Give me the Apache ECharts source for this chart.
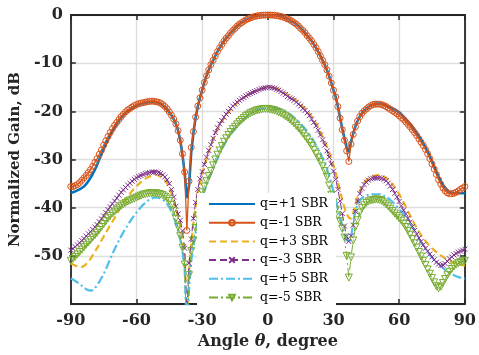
<!DOCTYPE html>
<html><head><meta charset="utf-8">
<script src="https://cdn.jsdelivr.net/npm/echarts@6/dist/echarts.min.js"></script>
<style>html,body{margin:0;padding:0;background:#fff}#c{width:479px;height:355px}</style>
</head><body><div id="c"></div>
<script>
// sampling grid: -90..90 degrees, 1 degree step
const angleStart = -90, angleEnd = 90;
const xTicks = [-90, -60, -30, 0, 30, 60, 90];
const yTickLabels = [0, -10, -20, -30, -40, -50];
const seriesNames = ['q=+1 SBR', 'q=-1 SBR', 'q=+3 SBR', 'q=-3 SBR', 'q=+5 SBR', 'q=-5 SBR'];

// values in dB, one per degree from -90 to 90 (rows of 10)
const qP1 = [
-36.9,-36.8,-36.6,-36.4,-36.2,-35.9,-35.6,-35.1,-34.5,-33.8,
-33.0,-32.1,-31.1,-30.0,-28.9,-27.8,-26.8,-25.8,-24.9,-24.1,
-23.3,-22.6,-21.9,-21.3,-20.8,-20.3,-19.9,-19.6,-19.3,-19.0,
-18.8,-18.6,-18.4,-18.3,-18.2,-18.1,-18.0,-18.0,-18.0,-18.1,
-18.2,-18.4,-18.7,-19.1,-19.6,-20.2,-20.8,-21.6,-22.6,-24.0,
-26.0,-29.0,-32.8,-38.0,-35.5,-28.5,-24.5,-21.3,-19.0,-17.2,
-15.6,-14.0,-12.6,-11.4,-10.3,-9.4,-8.5,-7.6,-6.8,-6.1,
-5.4,-4.8,-4.3,-3.7,-3.2,-2.8,-2.3,-1.9,-1.6,-1.3,
-1.0,-0.8,-0.6,-0.45,-0.3,-0.2,-0.12,-0.06,-0.03,0,
0,0,-0.03,-0.06,-0.12,-0.2,-0.3,-0.45,-0.6,-0.8,
-1.0,-1.3,-1.6,-1.9,-2.3,-2.8,-3.2,-3.7,-4.3,-4.8,
-5.4,-6.1,-6.8,-7.6,-8.5,-9.4,-10.3,-11.4,-12.7,-14.1,
-15.6,-17.0,-19.0,-21.3,-23.6,-25.6,-27.5,-28.5,-26.3,-24.6,
-23.1,-22.0,-21.1,-20.4,-19.9,-19.5,-19.1,-18.8,-18.6,-18.45,
-18.4,-18.4,-18.45,-18.6,-18.8,-19.0,-19.2,-19.4,-19.6,-19.9,
-20.2,-20.6,-21.1,-21.6,-22.1,-22.6,-23.2,-23.8,-24.5,-25.2,
-25.9,-26.7,-27.5,-28.4,-29.4,-30.4,-31.5,-32.6,-33.6,-34.5,
-35.3,-35.9,-36.4,-36.7,-36.9,-37.0,-37.0,-37.0,-37.0,-37.0,
-37.0];

const qM1 = [
-35.6,-35.6,-35.4,-35.2,-34.8,-34.3,-33.8,-33.3,-32.7,-32.1,
-31.4,-30.6,-29.8,-28.9,-28.0,-27.0,-26.1,-25.2,-24.4,-23.6,
-22.9,-22.3,-21.7,-21.1,-20.6,-20.1,-19.7,-19.4,-19.1,-18.8,
-18.6,-18.4,-18.3,-18.2,-18.1,-18.0,-17.9,-17.9,-17.9,-18.0,
-18.1,-18.3,-18.6,-19.0,-19.5,-20.1,-20.8,-21.6,-22.6,-24.0,
-26.0,-28.8,-32.6,-44.7,-34.5,-27.5,-24.2,-21.2,-18.9,-17.2,
-15.6,-14.0,-12.6,-11.4,-10.3,-9.4,-8.5,-7.6,-6.8,-6.1,
-5.4,-4.8,-4.3,-3.7,-3.2,-2.8,-2.3,-1.9,-1.6,-1.3,
-1.0,-0.8,-0.6,-0.45,-0.3,-0.2,-0.12,-0.06,-0.03,0,
0,0,-0.03,-0.06,-0.12,-0.2,-0.3,-0.45,-0.6,-0.8,
-1.0,-1.3,-1.6,-1.9,-2.3,-2.8,-3.2,-3.7,-4.3,-4.8,
-5.4,-6.1,-6.8,-7.6,-8.5,-9.4,-10.3,-11.4,-12.7,-14.1,
-15.6,-17.0,-19.0,-21.4,-23.8,-26.0,-28.2,-30.4,-26.8,-24.8,
-23.2,-22.0,-21.1,-20.4,-19.9,-19.5,-19.1,-18.8,-18.6,-18.5,
-18.5,-18.5,-18.6,-18.8,-19.0,-19.3,-19.6,-19.9,-20.2,-20.5,
-20.9,-21.3,-21.7,-22.2,-22.7,-23.2,-23.8,-24.4,-25.0,-25.7,
-26.4,-27.1,-27.9,-28.8,-29.8,-30.9,-32.0,-33.1,-34.2,-35.1,
-35.9,-36.5,-36.9,-37.1,-37.1,-37.0,-36.8,-36.5,-36.2,-35.9,
-35.6];

const qP3 = [
-51.6,-51.8,-52.0,-52.2,-52.3,-52.3,-52.1,-51.7,-51.2,-50.6,
-49.9,-49.1,-48.4,-47.6,-46.8,-46.0,-45.2,-44.4,-43.6,-42.9,
-42.1,-41.3,-40.5,-39.7,-39.0,-38.3,-37.7,-37.1,-36.5,-36.0,
-35.5,-35.1,-34.7,-34.3,-34.0,-33.7,-33.5,-33.3,-33.2,-33.2,
-33.3,-33.5,-33.8,-34.3,-35.0,-35.9,-37.0,-38.4,-40.1,-42.0,
-44.0,-46.5,-50.0,-64.0,-53.0,-47.5,-43.2,-39.8,-37.0,-34.8,
-33.0,-31.4,-29.9,-28.5,-27.2,-26.0,-24.8,-23.8,-22.9,-22.1,
-21.4,-20.8,-20.2,-19.6,-19.1,-18.7,-18.2,-17.8,-17.5,-17.2,
-16.9,-16.6,-16.4,-16.1,-15.9,-15.7,-15.5,-15.4,-15.2,-15.1,
-15.0,-15.0,-15.0,-15.1,-15.2,-15.4,-15.6,-15.9,-16.2,-16.5,
-16.8,-17.1,-17.4,-17.8,-18.1,-18.5,-19.0,-19.4,-19.9,-20.5,
-21.1,-21.8,-22.5,-23.3,-24.2,-25.2,-26.2,-27.3,-28.5,-29.8,
-31.2,-32.8,-34.6,-36.5,-38.4,-40.0,-41.3,-42.1,-42.3,-41.0,
-39.2,-37.8,-36.5,-35.5,-34.8,-34.3,-33.9,-33.6,-33.4,-33.3,
-33.2,-33.2,-33.3,-33.5,-33.8,-34.2,-34.7,-35.2,-35.8,-36.5,
-37.2,-38.0,-38.9,-39.8,-40.7,-41.6,-42.5,-43.4,-44.2,-45.0,
-45.7,-46.3,-46.9,-47.4,-47.9,-48.4,-48.8,-49.2,-49.6,-49.9,
-50.2,-50.5,-50.8,-51.0,-51.2,-51.4,-51.5,-51.7,-51.8,-51.9,
-52.0];

const qM3 = [
-48.8,-48.5,-48.1,-47.7,-47.3,-46.8,-46.4,-45.9,-45.4,-45.0,
-44.5,-44.0,-43.5,-42.9,-42.3,-41.7,-41.0,-40.4,-39.8,-39.2,
-38.6,-38.0,-37.4,-36.8,-36.3,-35.8,-35.3,-34.9,-34.5,-34.1,
-33.8,-33.5,-33.3,-33.1,-32.9,-32.8,-32.7,-32.6,-32.6,-32.6,
-32.7,-32.9,-33.2,-33.6,-34.2,-35.0,-36.2,-37.8,-39.7,-41.3,
-42.6,-44.8,-48.4,-62.0,-51.5,-46.5,-42.2,-38.9,-36.2,-34.0,
-32.5,-31.0,-29.5,-28.1,-26.9,-25.6,-24.4,-23.4,-22.6,-21.9,
-21.2,-20.6,-20.0,-19.4,-18.9,-18.5,-18.1,-17.7,-17.4,-17.1,
-16.8,-16.5,-16.3,-16.1,-15.9,-15.7,-15.5,-15.3,-15.2,-15.1,
-15.0,-15.0,-15.1,-15.2,-15.4,-15.6,-15.9,-16.2,-16.5,-16.9,
-17.2,-17.4,-17.7,-18.1,-18.5,-18.9,-19.4,-19.8,-20.3,-20.9,
-21.6,-22.3,-23.0,-23.9,-24.9,-25.9,-27.0,-28.2,-29.5,-30.9,
-32.4,-34.1,-36.2,-38.6,-41.2,-43.8,-46.0,-47.0,-45.8,-43.6,
-40.8,-38.6,-37.1,-36.0,-35.2,-34.7,-34.3,-34.0,-33.9,-33.8,
-33.8,-33.8,-33.9,-34.1,-34.4,-34.9,-35.5,-36.2,-37.0,-37.8,
-38.7,-39.6,-40.5,-41.3,-42.2,-43.0,-43.9,-44.7,-45.5,-46.3,
-47.0,-47.7,-48.4,-49.0,-49.6,-50.2,-50.8,-51.3,-51.7,-52.0,
-51.9,-51.6,-51.1,-50.6,-50.2,-49.8,-49.5,-49.2,-49.0,-48.8,
-48.6];

const qP5 = [
-54.7,-54.9,-55.2,-55.5,-55.8,-56.2,-56.6,-56.9,-57.1,-57.2,
-57.1,-56.7,-56.1,-55.4,-54.6,-53.8,-52.8,-51.7,-50.6,-49.6,
-48.6,-47.7,-46.8,-45.9,-45.1,-44.3,-43.6,-42.9,-42.2,-41.6,
-41.0,-40.4,-39.9,-39.4,-39.0,-38.6,-38.3,-38.1,-37.9,-37.9,
-37.9,-38.1,-38.3,-38.7,-39.2,-39.9,-40.8,-41.9,-43.2,-44.8,
-46.6,-49.0,-52.5,-66.0,-57.0,-51.0,-48.0,-45.3,-42.8,-40.3,
-38.0,-36.6,-35.3,-34.1,-33.0,-31.9,-30.8,-29.8,-28.8,-27.9,
-27.0,-26.2,-25.5,-24.8,-24.2,-23.6,-23.0,-22.5,-22.0,-21.6,
-21.2,-20.8,-20.5,-20.2,-20.0,-19.8,-19.6,-19.5,-19.4,-19.3,
-19.2,-19.2,-19.2,-19.3,-19.4,-19.5,-19.6,-19.8,-20.0,-20.3,
-20.6,-20.9,-21.3,-21.7,-22.1,-22.6,-23.1,-23.6,-24.2,-24.8,
-25.5,-26.2,-27.0,-27.8,-28.7,-29.7,-30.8,-32.0,-33.4,-35.0,
-36.7,-38.4,-40.2,-42.0,-43.8,-45.4,-46.6,-47.3,-46.2,-43.0,
-40.6,-39.3,-38.5,-38.0,-37.7,-37.5,-37.3,-37.2,-37.2,-37.2,
-37.2,-37.2,-37.3,-37.5,-37.8,-38.0,-38.4,-38.8,-39.3,-39.8,
-40.3,-40.8,-41.3,-41.9,-42.6,-43.3,-44.0,-44.8,-45.6,-46.4,
-47.2,-47.9,-48.6,-49.2,-49.8,-50.3,-50.8,-51.3,-51.7,-52.1,
-52.5,-52.9,-53.2,-53.5,-53.8,-54.0,-54.2,-54.4,-54.5,-54.6,
-54.7];

const qM5 = [
-51.0,-50.6,-50.2,-49.7,-49.2,-48.7,-48.2,-47.7,-47.2,-46.7,
-46.2,-45.7,-45.2,-44.6,-44.0,-43.4,-42.8,-42.2,-41.7,-41.2,
-40.8,-40.4,-40.0,-39.6,-39.3,-39.0,-38.7,-38.5,-38.3,-38.1,
-37.9,-37.7,-37.5,-37.3,-37.2,-37.1,-37.0,-37.0,-37.0,-37.0,
-37.1,-37.2,-37.4,-37.7,-38.1,-38.6,-39.4,-40.6,-42.3,-44.0,
-45.9,-48.3,-51.8,-67.0,-54.0,-49.0,-46.8,-44.2,-41.7,-39.0,
-36.8,-35.6,-34.5,-33.4,-32.4,-31.2,-30.0,-29.0,-28.1,-27.2,
-26.3,-25.6,-24.9,-24.3,-23.7,-23.2,-22.7,-22.2,-21.8,-21.4,
-21.0,-20.7,-20.4,-20.2,-20.0,-19.8,-19.7,-19.6,-19.5,-19.5,
-19.5,-19.6,-19.7,-19.8,-20.0,-20.2,-20.4,-20.7,-21.0,-21.3,
-21.7,-22.1,-22.5,-23.0,-23.5,-24.0,-24.6,-25.2,-25.8,-26.5,
-27.2,-28.0,-28.8,-29.6,-30.5,-31.4,-32.4,-33.6,-35.4,-37.3,
-38.9,-40.4,-41.6,-42.8,-44.4,-46.2,-50.0,-54.5,-50.3,-46.8,
-44.0,-42.6,-41.0,-40.1,-39.5,-39.0,-38.7,-38.5,-38.4,-38.3,
-38.3,-38.4,-38.6,-38.9,-39.3,-39.7,-40.2,-40.7,-41.2,-41.7,
-42.2,-42.7,-43.3,-44.0,-44.8,-45.6,-46.5,-47.4,-48.3,-49.2,
-50.1,-51.0,-51.9,-52.8,-53.7,-54.6,-55.5,-56.3,-56.7,-56.4,
-55.6,-54.8,-54.0,-53.3,-52.7,-52.2,-51.8,-51.5,-51.3,-51.1,
-51.0];

const angles = [];
for (let a = angleStart; a <= angleEnd; a++) angles.push(a);
const pairs = v => angles.map((a, i) => [a, v[i]]);

const FONT = 'DejaVu Serif';
const AX = '#262626';
const chart = echarts.init(document.getElementById('c'), null, {renderer: 'canvas'});

function mk(name, vals, color, width, type, symbol) {
  const s = {
    name, type: 'line', data: pairs(vals), clip: true,
    lineStyle: {color, width, type},
    itemStyle: {color: 'rgba(0,0,0,0)', borderColor: 'rgba(0,0,0,0)', borderWidth: 0},
    showSymbol: false, symbol: 'none', animation: false,
    emphasis: {disabled: true}
  };
  if (symbol) {
    Object.assign(s, {showSymbol: true, showAllSymbol: true, symbol: symbol.shape,
      symbolSize: symbol.size, symbolRotate: symbol.rotate || 0,
      itemStyle: {color: 'rgba(255,255,255,0)', borderColor: color, borderWidth: 1}});
  }
  return s;
}

const series = [
  mk(seriesNames[0], qP1, '#0072BD', 2.6, 'solid'),
  mk(seriesNames[1], qM1, '#D95319', 1.3, 'solid', {shape: 'circle', size: 6}),
  mk(seriesNames[2], qP3, '#EDB120', 2.2, [7, 4]),
  mk(seriesNames[3], qM3, '#7E2F8E', 1, [7, 4], {shape: 'path://M0,0L10,10M0,10L10,0', size: 5}),
  mk(seriesNames[4], qP5, '#4DBEEE', 2.2, [9, 3, 2, 3]),
  mk(seriesNames[5], qM5, '#77AC30', 1, [9, 3, 2, 3], {shape: 'triangle', size: 7, rotate: 180})
];

const axLine = {show: true, onZero: false, lineStyle: {color: AX, width: 1.8}};
const axTick = {show: true, inside: true, length: 5, lineStyle: {color: AX, width: 1.5}};
const lblStyle = {color: AX, fontFamily: FONT, fontWeight: 'bold', fontSize: 16};

chart.setOption({
  animation: false,
  backgroundColor: '#fff',
  grid: {left: 67, right: 14, top: 15, bottom: 42},
  legend: {
    orient: 'vertical', left: 197, top: 193,
    backgroundColor: '#fff', borderWidth: 0,
    padding: [4, 8, 4, 11],
    itemWidth: 46, itemHeight: 7, itemGap: 4.7,
    textStyle: {fontFamily: FONT, fontSize: 12.5, lineHeight: 14, color: '#000'},
    data: seriesNames
  },
  xAxis: [{
    type: 'value', min: -90, max: 90, interval: 30, position: 'bottom',
    axisLine: axLine, axisTick: axTick,
    axisLabel: Object.assign({margin: 9, formatter: v => xTicks.includes(v) ? String(v) : ''}, lblStyle),
    splitLine: {show: true, lineStyle: {color: '#dedede', width: 1.4}},
    name: '{a|Angle }{t|θ}{a|, degree}', nameLocation: 'middle', nameGap: 27,
    nameTextStyle: {rich: {
      a: {fontFamily: FONT, fontWeight: 'bold', fontSize: 16, color: AX},
      t: {fontFamily: FONT, fontWeight: 'bold', fontStyle: 'italic', fontSize: 16, color: AX}
    }}
  }, {
    type: 'value', min: -90, max: 90, interval: 30, position: 'top',
    axisLine: axLine, axisTick: axTick, axisLabel: {show: false}, splitLine: {show: false}
  }],
  yAxis: [{
    type: 'value', min: -60, max: 0, interval: 10, position: 'left',
    axisLine: axLine, axisTick: axTick,
    axisLabel: Object.assign({margin: 8, formatter: v => yTickLabels.includes(v) ? String(v) : ''}, lblStyle),
    splitLine: {show: true, lineStyle: {color: '#dedede', width: 1.4}},
    name: 'Normalized Gain, dB', nameLocation: 'middle', nameGap: 42, nameRotate: 90,
    nameTextStyle: {fontFamily: FONT, fontWeight: 'bold', fontSize: 15, color: AX}
  }, {
    type: 'value', min: -60, max: 0, interval: 10, position: 'right',
    axisLine: axLine, axisTick: axTick, axisLabel: {show: false}, splitLine: {show: false}
  }],
  series
});
</script>
</body></html>
